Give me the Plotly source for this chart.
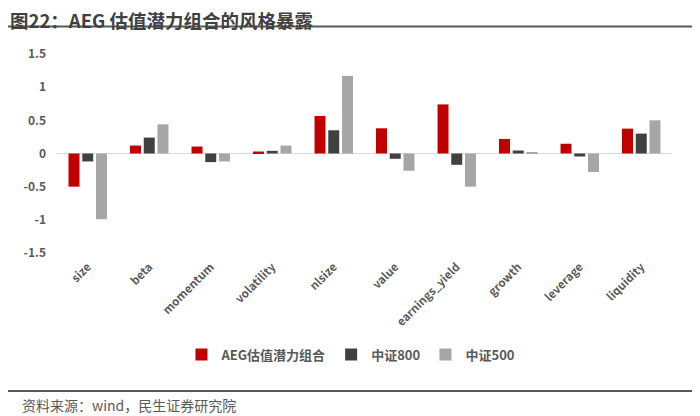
import plotly.graph_objects as go

categories = ["size", "beta", "momentum", "volatility", "nlsize", "value",
              "earnings_yield", "growth", "leverage", "liquidity"]
aeg = [-0.50, 0.12, 0.105, 0.03, 0.565, 0.38, 0.74, 0.22, 0.147, 0.375]
csi800 = [-0.12, 0.24, -0.13, 0.04, 0.35, -0.08, -0.17, 0.045, -0.045, 0.30]
csi500 = [-0.99, 0.44, -0.12, 0.12, 1.17, -0.26, -0.50, 0.015, -0.28, 0.50]
series_names = ["AEG估值潜力组合", "中证800", "中证500"]
y_ticks = [-1.5, -1, -0.5, 0, 0.5, 1, 1.5]
y_tick_text = ["-1.5", "-1", "-0.5", "0", "0.5", "1", "1.5"]

colors = ["#C00000", "#404040", "#A6A6A6"]
font_family = "Noto Sans CJK SC, Noto Sans, sans-serif"
txt = "#595959"

fig = go.Figure()
for name, vals, c in zip(series_names, [aeg, csi800, csi500], colors):
    fig.add_trace(go.Bar(x=categories, y=vals, name=name, marker_color=c,
                         marker_line_width=0))

# page body has an 8px default margin, so the figure is 692x408
fig.update_layout(
    width=692, height=408,
    margin=dict(l=49, r=28, t=46, b=163, autoexpand=False),
    paper_bgcolor="white", plot_bgcolor="white",
    barmode="group", bargap=0.33, bargroupgap=0.2,
    font=dict(family=font_family, color=txt, size=12),
    showlegend=True,
    legend=dict(orientation="h", x=0.478, xanchor="center", y=-0.51, yanchor="middle",
                font=dict(size=13, color=txt, family=font_family, weight=600),
                itemwidth=30, traceorder="normal"),
    xaxis=dict(tickangle=-45, showline=False, showgrid=False, ticks="",
               ticklabelstandoff=4,
               tickfont=dict(size=11.5, color=txt, family=font_family, weight=600)),
    yaxis=dict(range=[-1.5, 1.5], tickvals=y_ticks, ticktext=y_tick_text,
               showgrid=False, zeroline=True, zerolinecolor="#D9D9D9", zerolinewidth=1,
               showline=False, ticks="", ticklabelstandoff=10,
               tickfont=dict(size=12, color=txt, family=font_family, weight=600)),
)

fig.add_annotation(text="<b>图22：AEG 估值潜力组合的风格暴露</b>", xref="paper", yref="paper",
                   x=-0.0797, y=1.171, xanchor="left", yanchor="middle", showarrow=False,
                   font=dict(size=18.5, color="#404040", family=font_family))
fig.add_annotation(text="资料来源：wind，民生证券研究院", xref="paper", yref="paper",
                   x=-0.06, y=-0.764, xanchor="left", yanchor="middle", showarrow=False,
                   font=dict(size=14, color=txt, family=font_family))
fig.add_shape(type="line", xref="paper", yref="paper", x0=-0.0797, x1=1.037,
              y0=1.138, y1=1.138, line=dict(color="#595959", width=2))
fig.add_shape(type="line", xref="paper", yref="paper", x0=-0.0797, x1=1.037,
              y0=-0.693, y1=-0.693, line=dict(color="#595959", width=2))

fig.write_html("out.html")
